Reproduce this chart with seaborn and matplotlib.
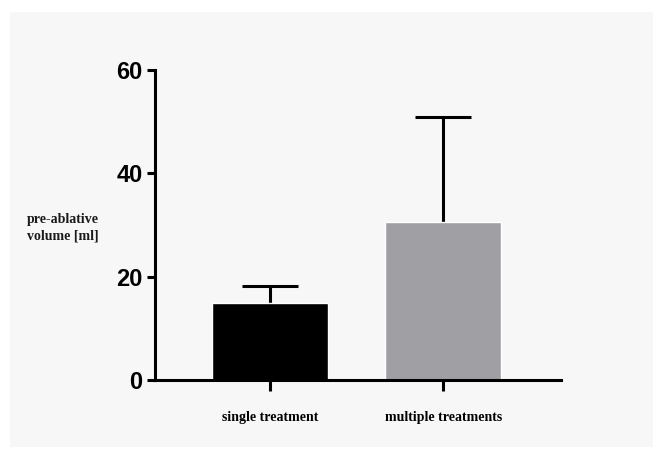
import numpy as np
import pandas as pd
import matplotlib
matplotlib.use("Agg")
import matplotlib.pyplot as plt
import seaborn as sns
from matplotlib.patches import Rectangle

groups = ["single treatment", "multiple treatments"]
mean_volume = [14.9, 30.6]
sd_volume = [3.3, 20.3]
bar_colors = ["#000000", "#a09fa4"]
y_ticks = [0, 20, 40, 60]

sns.set_style("ticks")
plt.rcParams['font.family'] = ['Liberation Sans Narrow', 'Liberation Sans', 'DejaVu Sans']
plt.rcParams['text.color'] = 'black'

df = pd.DataFrame({"group": groups, "volume": mean_volume})

fig = plt.figure(figsize=(6.6, 4.5), dpi=100)
fig.patch.set_facecolor("white")
fig.patches.append(Rectangle((10 / 660, 3 / 450), 643 / 660, 435 / 450,
                             transform=fig.transFigure, facecolor="#f7f7f7",
                             edgecolor="none", zorder=-10))
ax = fig.add_axes([155 / 660, 70 / 450, 406 / 660, 310 / 450])
ax.set_facecolor("none")

sns.barplot(data=df, x="group", y="volume", hue="group", palette=bar_colors,
            width=0.67, legend=False, ax=ax, saturation=1, errorbar=None)
# upper error bars only
_, caps, _ = ax.errorbar(np.arange(len(groups)), mean_volume,
                         yerr=[np.zeros(len(groups)), sd_volume],
                         fmt="none", ecolor="black", elinewidth=2.2, capsize=20,
                         capthick=2.2, zorder=1)
caps[0].set_visible(False)
for b in ax.patches:
    b.set_zorder(2)

ax.set_ylim(0, 60)
ax.set_xlim(-0.665, 1.68)
ax.set_yticks(y_ticks)
ax.set_yticklabels([str(t) for t in y_ticks], fontsize=17, fontweight="bold")
ax.set_xticks(range(len(groups)))
ax.set_xticklabels(groups, fontsize=10, fontweight="bold",
                   family=["Liberation Serif", "DejaVu Serif"])
ax.tick_params(axis="both", colors="black", labelcolor="black")
ax.tick_params(axis="y", length=6, width=2.2, pad=3)
ax.tick_params(axis="x", length=8, width=2.2, pad=14)
sns.despine(ax=ax)
for s in ["left", "bottom"]:
    ax.spines[s].set_linewidth(2.2)
    ax.spines[s].set_color("black")
ax.set_xlabel("")
ax.set_ylabel("")

fig.text(27 / 660, 1 - 213 / 450, "pre-ablative\nvolume [ml]", ha="left", va="top",
         fontsize=10, fontweight="bold", family=["Liberation Serif", "DejaVu Serif"],
         linespacing=1.35, color="#1a1a1a")

fig.savefig("out.png", dpi=100)
